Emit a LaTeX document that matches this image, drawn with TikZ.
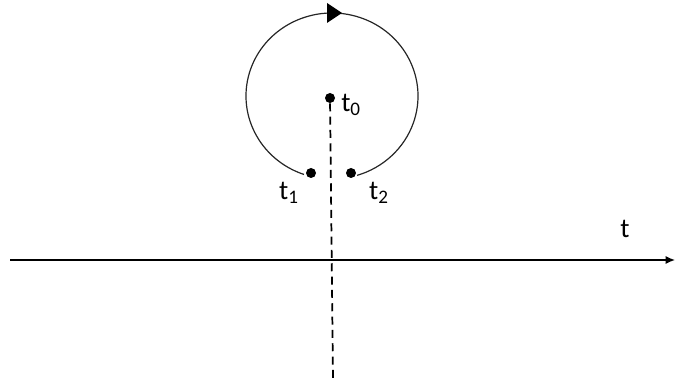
\documentclass[tikz,border=0pt]{standalone}
\usepackage{fontspec}
\setmainfont{Carlito}
\usetikzlibrary{arrows.meta,calc}
\begin{document}
\begin{tikzpicture}[x=0.75pt,y=0.75pt,
  dot/.style={circle,fill=black,inner sep=0pt,minimum size=7.5pt},
  lbl/.style={inner sep=0pt,font=\fontsize{20.5}{24}\selectfont},
  curve/.style={line width=0.9pt,draw=black!85},
  axis/.style={line width=1pt,-{Latex[length=7pt,width=6pt]}},
  dashline/.style={line width=1.3pt,dash pattern=on 6pt off 4pt}]
\useasboundingbox (0,0) rectangle (675,385);
% nodes
\node[dot] (t0) at (330,287) {};
\node[dot] (t1) at (311,212) {};
\node[dot] (t2) at (351,212) {};
\node[lbl,anchor=west] (l0) at (341,280) {t\textsubscript{0}};
\node[lbl] (l1) at (289,192) {t\textsubscript{1}};
\node[lbl] (l2) at (379,192) {t\textsubscript{2}};
\node[lbl] (lt) at (625,156) {t};
\coordinate (c) at (332,289);
\coordinate (axL) at (10,125);
\coordinate (axR) at (675,125);
\coordinate (dB) at (333,5);
% loop
\draw[curve] ($(c)+(251:86 and 83)$) arc[start angle=251,end angle=-73,x radius=86,y radius=83];
\fill (327,382) -- (342,372) -- (327,362) -- cycle;
% axis
\draw[axis] (axL) -- (axR);
% dashed line
\draw[dashline] (t0) -- (dB);
\end{tikzpicture}
\end{document}
